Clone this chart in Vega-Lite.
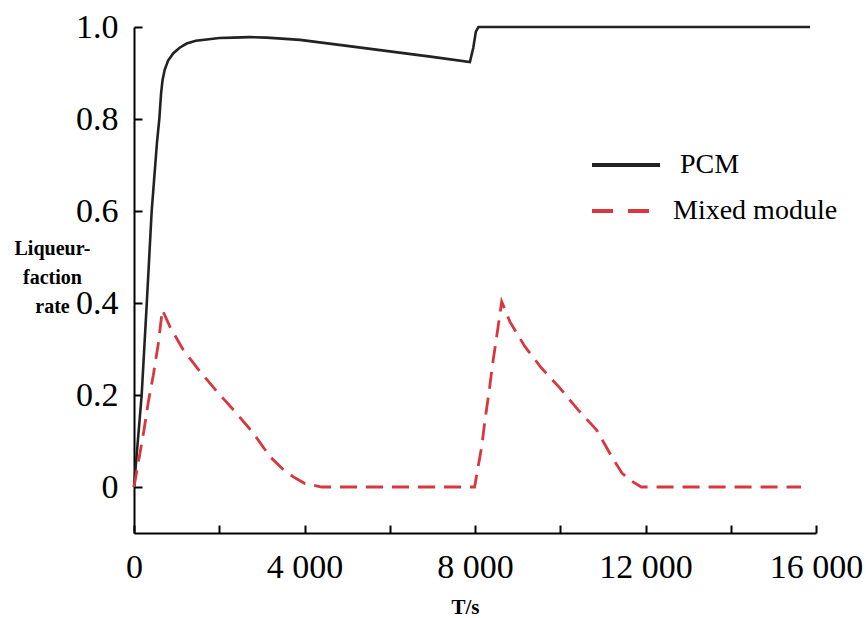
{
  "$schema": "https://vega.github.io/schema/vega-lite/v6.json",
  "width": 682,
  "height": 506,
  "autosize": {"type": "none"},
  "padding": {"left": 134, "top": 27, "right": 50, "bottom": 85},
  "background": "white",
  "config": {
    "view": {"stroke": null},
    "font": "Liberation Serif",
    "legend": {
      "orient": "none",
      "title": null,
      "symbolType": "stroke",
      "symbolSize": 4624,
      "symbolStrokeWidth": 4,
      "labelFont": "Liberation Serif",
      "labelFontSize": 28,
      "labelColor": "black",
      "labelOffset": 18,
      "labelLimit": 0,
      "padding": 0
    }
  },
  "data": {
    "values": [
      {"series": "PCM", "T": 0, "rate": 0},
      {"series": "PCM", "T": 180, "rate": 0.2},
      {"series": "PCM", "T": 300, "rate": 0.4},
      {"series": "PCM", "T": 415, "rate": 0.6},
      {"series": "PCM", "T": 540, "rate": 0.75},
      {"series": "PCM", "T": 594, "rate": 0.8},
      {"series": "PCM", "T": 635, "rate": 0.855},
      {"series": "PCM", "T": 670, "rate": 0.885},
      {"series": "PCM", "T": 720, "rate": 0.907},
      {"series": "PCM", "T": 800, "rate": 0.927},
      {"series": "PCM", "T": 923, "rate": 0.943},
      {"series": "PCM", "T": 1070, "rate": 0.955},
      {"series": "PCM", "T": 1236, "rate": 0.964},
      {"series": "PCM", "T": 1450, "rate": 0.97},
      {"series": "PCM", "T": 1705, "rate": 0.973},
      {"series": "PCM", "T": 2000, "rate": 0.976},
      {"series": "PCM", "T": 2330, "rate": 0.977},
      {"series": "PCM", "T": 2700, "rate": 0.978},
      {"series": "PCM", "T": 3113, "rate": 0.977},
      {"series": "PCM", "T": 3895, "rate": 0.972},
      {"series": "PCM", "T": 5000, "rate": 0.959},
      {"series": "PCM", "T": 6000, "rate": 0.947},
      {"series": "PCM", "T": 7000, "rate": 0.935},
      {"series": "PCM", "T": 7880, "rate": 0.924},
      {"series": "PCM", "T": 7960, "rate": 0.955},
      {"series": "PCM", "T": 8020, "rate": 0.99},
      {"series": "PCM", "T": 8080, "rate": 1.0},
      {"series": "PCM", "T": 15860, "rate": 1.0},
      {"series": "Mixed module", "T": 0, "rate": 0},
      {"series": "Mixed module", "T": 125, "rate": 0.066},
      {"series": "Mixed module", "T": 235, "rate": 0.124},
      {"series": "Mixed module", "T": 336, "rate": 0.185},
      {"series": "Mixed module", "T": 453, "rate": 0.243},
      {"series": "Mixed module", "T": 571, "rate": 0.312},
      {"series": "Mixed module", "T": 665, "rate": 0.385},
      {"series": "Mixed module", "T": 845, "rate": 0.348},
      {"series": "Mixed module", "T": 1157, "rate": 0.298},
      {"series": "Mixed module", "T": 1548, "rate": 0.251},
      {"series": "Mixed module", "T": 1978, "rate": 0.204},
      {"series": "Mixed module", "T": 2370, "rate": 0.164},
      {"series": "Mixed module", "T": 2800, "rate": 0.117},
      {"series": "Mixed module", "T": 3190, "rate": 0.066},
      {"series": "Mixed module", "T": 3500, "rate": 0.038},
      {"series": "Mixed module", "T": 3738, "rate": 0.022},
      {"series": "Mixed module", "T": 4000, "rate": 0.008},
      {"series": "Mixed module", "T": 4400, "rate": 0},
      {"series": "Mixed module", "T": 7990, "rate": 0},
      {"series": "Mixed module", "T": 8157, "rate": 0.088},
      {"series": "Mixed module", "T": 8235, "rate": 0.146},
      {"series": "Mixed module", "T": 8336, "rate": 0.211},
      {"series": "Mixed module", "T": 8415, "rate": 0.269},
      {"series": "Mixed module", "T": 8509, "rate": 0.327},
      {"series": "Mixed module", "T": 8626, "rate": 0.403},
      {"series": "Mixed module", "T": 8821, "rate": 0.359},
      {"series": "Mixed module", "T": 9173, "rate": 0.305},
      {"series": "Mixed module", "T": 9565, "rate": 0.258},
      {"series": "Mixed module", "T": 9994, "rate": 0.215},
      {"series": "Mixed module", "T": 10424, "rate": 0.167},
      {"series": "Mixed module", "T": 10855, "rate": 0.124},
      {"series": "Mixed module", "T": 11207, "rate": 0.066},
      {"series": "Mixed module", "T": 11450, "rate": 0.03},
      {"series": "Mixed module", "T": 11636, "rate": 0.015},
      {"series": "Mixed module", "T": 11900, "rate": 0},
      {"series": "Mixed module", "T": 15650, "rate": 0}
    ]
  },
  "encoding": {
    "x": {
      "field": "T",
      "type": "quantitative",
      "scale": {"domain": [0, 16000], "nice": false, "zero": false},
      "axis": {
        "values": [0, 2000, 4000, 6000, 8000, 10000, 12000, 14000, 16000],
        "labelExpr": "datum.value % 4000 == 0 ? replace(format(datum.value, ','), ',', ' ') : ''",
        "grid": false,
        "domainColor": "black",
        "domainWidth": 2,
        "tickColor": "black",
        "tickWidth": 2,
        "tickSize": -8,
        "labelPadding": 25,
        "labelFont": "Liberation Serif",
        "labelFontSize": 34,
        "labelColor": "black",
        "labelFlush": false,
        "labelOverlap": false,
        "title": "T/s",
        "titleFont": "Liberation Serif",
        "titleFontSize": 21,
        "titleFontWeight": "bold",
        "titleColor": "black",
        "titleAnchor": null,
        "titleAlign": "center",
        "titleBaseline": "alphabetic",
        "titleX": 331,
        "titleY": 80
      }
    },
    "y": {
      "field": "rate",
      "type": "quantitative",
      "scale": {"domain": [-0.1, 1.0], "nice": false, "zero": false},
      "axis": {
        "values": [0, 0.2, 0.4, 0.6, 0.8, 1.0],
        "labelExpr": "datum.value == 0 ? '0' : format(datum.value, '.1f')",
        "grid": false,
        "domainColor": "black",
        "domainWidth": 2,
        "tickColor": "black",
        "tickWidth": 2,
        "tickSize": -8,
        "labelPadding": 24,
        "labelFont": "Liberation Serif",
        "labelFontSize": 34,
        "labelColor": "black",
        "labelFlush": false,
        "labelOverlap": false,
        "title": ["Liqueur-", "faction", "rate"],
        "titleFont": "Liberation Serif",
        "titleFontSize": 20,
        "titleFontWeight": "bold",
        "titleColor": "black",
        "titleAngle": 0,
        "titleAnchor": null,
        "titleAlign": "center",
        "titleBaseline": "alphabetic",
        "titleLineHeight": 29,
        "titleX": -82,
        "titleY": 227
      }
    }
  },
  "layer": [
    {
      "transform": [{"filter": "datum.series === 'PCM'"}],
      "mark": {"type": "line", "strokeWidth": 2.6, "strokeCap": "butt"},
      "encoding": {
        "color": {
          "field": "series",
          "type": "nominal",
          "scale": {"domain": ["PCM"], "range": ["#222222"]},
          "legend": {"legendX": 456, "legendY": 102}
        }
      }
    },
    {
      "transform": [{"filter": "datum.series === 'Mixed module'"}],
      "mark": {"type": "line", "strokeWidth": 2.8, "strokeCap": "butt", "strokeDash": [17, 9]},
      "encoding": {
        "color": {
          "field": "series",
          "type": "nominal",
          "scale": {"domain": ["Mixed module"], "range": ["#d9363e"]},
          "legend": {"legendX": 456, "legendY": 148, "symbolDash": [21, 15, 21, 40], "labelOffset": 11}
        }
      }
    }
  ],
  "resolve": {"scale": {"color": "independent"}, "legend": {"color": "independent"}}
}
